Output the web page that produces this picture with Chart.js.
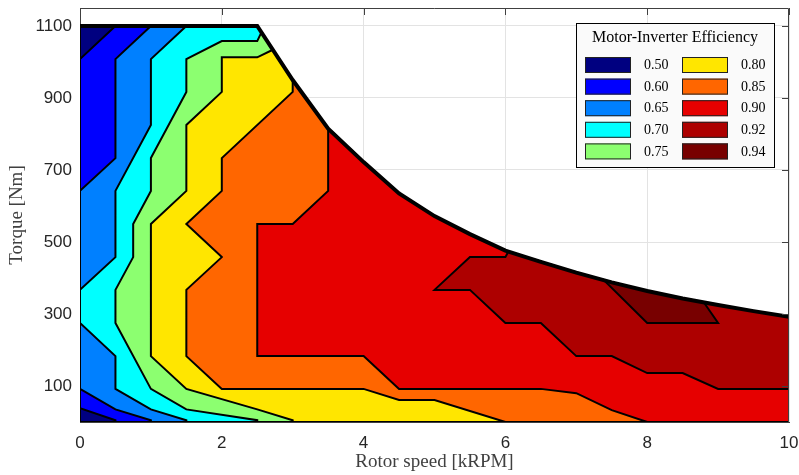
<!DOCTYPE html>
<html>
<head>
<meta charset="utf-8">
<script src="https://cdn.jsdelivr.net/npm/chart.js@4.4.1/dist/chart.umd.min.js"></script>
<style>
  html, body { margin: 0; padding: 0; background: #fff; }
  #grafico { display: block; }
</style>
</head>
<body>
<canvas id="grafico" width="799" height="475"></canvas>
<script>
// niveis de eficiencia e cores da legenda
var niveis = [0.50, 0.60, 0.65, 0.70, 0.75, 0.80, 0.85, 0.90, 0.92, 0.94];
var cores = ['#000080', '#0000ff', '#0080ff', '#00ffff', '#8cff70', '#ffe600', '#ff6600', '#e60000', '#ad0000', '#780000'];

// curva de torque maximo (kRPM, Nm)
var envRotacao = [0, 2.5, 3, 3.5, 4, 4.5, 5, 5.5, 6, 6.5, 7, 7.5, 8, 8.5, 9, 9.5, 10];
var envTorque = [1100, 1100, 950, 815, 722, 635, 572, 522, 476, 445, 415, 388, 364, 343, 325, 308, 292];

// linhas de contorno, comecando na curva de torque maximo
var c50 = [[0, 1100], [0, 0]];
var c60 = [[0.5, 1100], [0, 1008], [0, 38], [0.5, 5], [0.5, 0]];
var c65 = [[1.0, 1100], [0.5, 1008], [0.5, 733], [0, 642], [0, 92], [0.5, 35], [1.0, 5], [1.0, 0]];
var c70 = [[1.5, 1100], [1.0, 1008], [1.0, 825], [0.5, 642], [0.5, 458], [0, 367], [0, 275], [0.5, 183], [0.5, 92], [1.0, 35], [1.5, 5], [1.5, 0]];
var c75 = [[2.56, 1083], [2.5, 1058], [2.0, 1058], [1.5, 1008], [1.5, 917], [1.0, 733], [1.0, 642], [0.75, 550], [0.75, 458], [0.5, 367], [0.5, 275], [1.0, 92], [1.5, 35], [2.5, 5], [2.5, 0]];
var c80 = [[2.72, 1034], [2.5, 1013], [2.0, 1013], [2.0, 917], [1.5, 825], [1.5, 642], [1.0, 550], [1.0, 183], [1.5, 92], [2.5, 35], [3.0, 5], [3.0, 0]];
var c85 = [[3.0, 950], [3.0, 917], [2.0, 733], [2.0, 642], [1.5, 550], [2.0, 458], [1.5, 367], [1.5, 183], [2.0, 92], [4.0, 92], [4.5, 61], [5.0, 61], [6.0, 0]];
var c90 = [[3.5, 815], [3.5, 642], [3.0, 550], [2.5, 550], [2.5, 183], [4.0, 183], [4.5, 92], [6.5, 92], [7.0, 80], [7.5, 33], [8.0, 0]];
var c92 = [[6.04, 473], [6.0, 458], [5.5, 458], [5.0, 367], [5.5, 367], [6.0, 275], [6.5, 275], [7.0, 183], [7.5, 183], [8.0, 136], [8.5, 136], [9.0, 92], [10, 92]];
var c94 = [[8.8, 332], [9.0, 275], [8.0, 275], [7.4, 392]];

var contornos = [c50, c60, c65, c70, c75, c80, c85, c90, c92, c94];

var ticksX = [0, 2, 4, 6, 8, 10];
var ticksY = [100, 300, 500, 700, 900, 1100];

// pontos da curva entre duas rotacoes (exclusive), na ordem de 'de' para 'ate'
function pontosCurva(de, ate) {
  var pts = [];
  for (var i = 0; i < envRotacao.length; i++) {
    var x = envRotacao[i];
    if (x > Math.min(de, ate) && x < Math.max(de, ate)) pts.push({ x: x, y: envTorque[i] });
  }
  if (de > ate) pts.reverse();
  return pts;
}

// fecha a regiao >= nivel usando a borda do grafico e a curva
function montarRegiao(contorno) {
  var pts = contorno.map(function (p) { return { x: p[0], y: p[1] }; });
  var primeiro = contorno[0];
  var ultimo = contorno[contorno.length - 1];
  var fim = envTorque[envTorque.length - 1];
  if (ultimo[1] === 0) {
    pts.push({ x: 10, y: 0 });
    pts.push({ x: 10, y: fim });
    pts = pts.concat(pontosCurva(10, primeiro[0]));
  } else if (ultimo[0] === 10) {
    pts.push({ x: 10, y: fim });
    pts = pts.concat(pontosCurva(10, primeiro[0]));
  } else {
    pts = pts.concat(pontosCurva(ultimo[0], primeiro[0]));
  }
  pts.push({ x: primeiro[0], y: primeiro[1] });
  return pts;
}

var datasets = contornos.map(function (c, i) {
  return {
    label: niveis[i].toFixed(2),
    data: montarRegiao(c),
    showLine: true,
    fill: 'shape',
    backgroundColor: cores[i],
    borderColor: '#000000',
    borderWidth: 2,
    pointRadius: 0,
    tension: 0,
    order: 20 - i
  };
});

datasets.push({
  label: 'Torque max',
  data: envRotacao.map(function (x, i) { return { x: x, y: envTorque[i] }; }),
  showLine: true,
  fill: false,
  borderColor: '#000000',
  borderWidth: 4,
  pointRadius: 0,
  tension: 0,
  order: 0
});

// caixa do eixo com marcas internas (topo e direita)
var caixaPlugin = {
  id: 'caixa',
  afterDatasetsDraw: function (chart) {
    var ctx = chart.ctx;
    var a = chart.chartArea;
    var sx = chart.scales.x;
    var sy = chart.scales.y;
    ctx.save();
    ctx.strokeStyle = '#404040';
    ctx.lineWidth = 1;
    ctx.beginPath();
    ctx.moveTo(a.left, a.top + 0.5);
    ctx.lineTo(a.right - 0.5, a.top + 0.5);
    ctx.lineTo(a.right - 0.5, a.bottom);
    ctx.stroke();
    ctx.beginPath();
    ticksX.forEach(function (v) {
      var px = Math.round(sx.getPixelForValue(v)) + 0.5;
      ctx.moveTo(px, a.top);
      ctx.lineTo(px, a.top + 7);
    });
    ticksY.forEach(function (v) {
      var py = Math.round(sy.getPixelForValue(v)) + 0.5;
      ctx.moveTo(a.right, py);
      ctx.lineTo(a.right - 7, py);
    });
    ctx.stroke();
    ctx.restore();
  }
};

// legenda em duas colunas
var legendaPlugin = {
  id: 'legendaEficiencia',
  afterDraw: function (chart) {
    var ctx = chart.ctx;
    var bx = 576, by = 23, bw = 198, bh = 144;
    ctx.save();
    ctx.fillStyle = '#fafafa';
    ctx.fillRect(bx, by, bw, bh);
    ctx.strokeStyle = '#000000';
    ctx.lineWidth = 1;
    ctx.strokeRect(bx + 0.5, by + 0.5, bw, bh);
    ctx.fillStyle = '#000000';
    ctx.font = '16px "Liberation Serif", "Times New Roman", serif';
    ctx.textAlign = 'center';
    ctx.textBaseline = 'middle';
    ctx.fillText('Motor-Inverter Efficiency', bx + bw / 2, by + 15);
    ctx.font = '14px "Liberation Serif", "Times New Roman", serif';
    ctx.textAlign = 'left';
    for (var i = 0; i < niveis.length; i++) {
      var col = Math.floor(i / 5);
      var lin = i % 5;
      var sx = bx + 9 + col * 97;
      var sy = by + 34 + lin * 21.6;
      ctx.fillStyle = cores[i];
      ctx.fillRect(sx, sy, 46, 16);
      ctx.strokeStyle = '#222222';
      ctx.strokeRect(sx + 0.5, sy + 0.5, 45, 15);
      ctx.fillStyle = '#000000';
      ctx.fillText(niveis[i].toFixed(2), sx + 59, sy + 8.5);
    }
    ctx.restore();
  }
};

var ctx = document.getElementById('grafico').getContext('2d');
var grafico = new Chart(ctx, {
  type: 'scatter',
  data: { datasets: datasets },
  options: {
    responsive: false,
    animation: false,
    devicePixelRatio: 1,
    layout: { padding: { top: 8, right: 10, left: 0, bottom: 0 } },
    plugins: {
      legend: { display: false },
      tooltip: { enabled: false }
    },
    scales: {
      x: {
        type: 'linear',
        min: 0,
        max: 10,
        afterBuildTicks: function (scale) {
          scale.ticks = ticksX.map(function (v) { return { value: v }; });
        },
        afterFit: function (scale) {
          scale.height = 53;
          scale.paddingLeft = 0;
          scale.paddingRight = 0;
        },
        grid: { color: '#e3e3e3', drawTicks: false },
        border: { color: '#404040' },
        ticks: {
          padding: 11,
          color: '#262626',
          font: { family: '"Liberation Sans", Arial, sans-serif', size: 17 },
          callback: function (v) { return String(v); }
        },
        title: {
          display: true,
          text: 'Rotor speed [kRPM]',
          color: '#404040',
          padding: { top: 0, bottom: 2 },
          font: { family: '"Liberation Serif", "Times New Roman", serif', size: 19 }
        }
      },
      y: {
        type: 'linear',
        min: 0,
        max: 1150,
        afterBuildTicks: function (scale) {
          scale.ticks = ticksY.map(function (v) { return { value: v }; });
        },
        afterFit: function (scale) {
          scale.width = 80;
          scale.paddingTop = 0;
          scale.paddingBottom = 0;
        },
        grid: { color: '#e3e3e3', drawTicks: false },
        border: { color: '#404040' },
        ticks: {
          padding: 8,
          color: '#262626',
          font: { family: '"Liberation Sans", Arial, sans-serif', size: 17 },
          callback: function (v) { return String(v); }
        },
        title: {
          display: true,
          text: 'Torque [Nm]',
          color: '#404040',
          padding: { top: 6, bottom: 0 },
          font: { family: '"Liberation Serif", "Times New Roman", serif', size: 19 }
        }
      }
    }
  },
  plugins: [caixaPlugin, legendaPlugin]
});
</script>
</body>
</html>
